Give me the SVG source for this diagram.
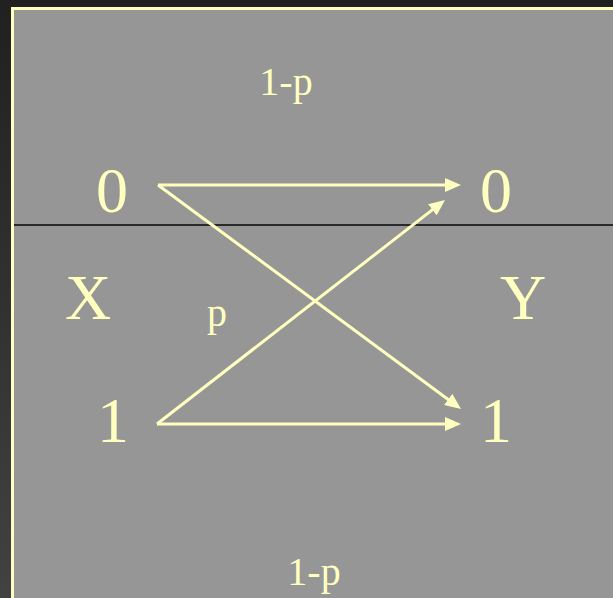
<svg xmlns="http://www.w3.org/2000/svg" width="613" height="598" viewBox="0 0 613 598">
<defs>
<linearGradient id="bg" x1="0" y1="0" x2="0" y2="1">
<stop offset="0" stop-color="#202020"/>
<stop offset="1" stop-color="#424242"/>
</linearGradient>
<marker id="ah" markerUnits="userSpaceOnUse" markerWidth="16" markerHeight="14" refX="8" refY="7" orient="auto">
<path d="M0,0 L16,7 L0,14 z" fill="#ffffc0"/>
</marker>
<style>
.t{font-family:"Liberation Serif","Times New Roman",serif;fill:#ffffc0;text-anchor:middle}
.big{font-size:64px}
.sm{font-size:40px}
.c{stroke:#ffffc0;stroke-width:3;fill:none;marker-end:url(#ah)}
</style>
</defs>
<rect x="0" y="0" width="613" height="598" fill="url(#bg)"/>
<rect x="12.5" y="8.5" width="620" height="600" fill="#969696" stroke="#ffffc0" stroke-width="3"/>
<line x1="14" y1="225" x2="613" y2="225" stroke="#2a2a2a" stroke-width="2"/>
<g id="connectors">
<line class="c" x1="158" y1="185" x2="453" y2="185"/>
<line class="c" x1="158" y1="185" x2="454.6" y2="404.2"/>
<line class="c" x1="157" y1="424" x2="438.7" y2="204.9"/>
<line class="c" x1="157" y1="424" x2="453" y2="424"/>
</g>
<g id="x0"><text class="t big" x="112" y="212">0</text></g>
<g id="x1"><text class="t big" x="113" y="442">1</text></g>
<g id="y0"><text class="t big" x="496" y="212">0</text></g>
<g id="y1"><text class="t big" x="496" y="442">1</text></g>
<g id="labelX"><text class="t big" x="88" y="319">X</text></g>
<g id="labelY"><text class="t big" x="523" y="319">Y</text></g>
<g id="ptop"><text class="t sm" x="286" y="95">1-p</text></g>
<g id="pmid"><text class="t sm" x="217" y="326">p</text></g>
<g id="pbot"><text class="t sm" x="314" y="585">1-p</text></g>
</svg>
